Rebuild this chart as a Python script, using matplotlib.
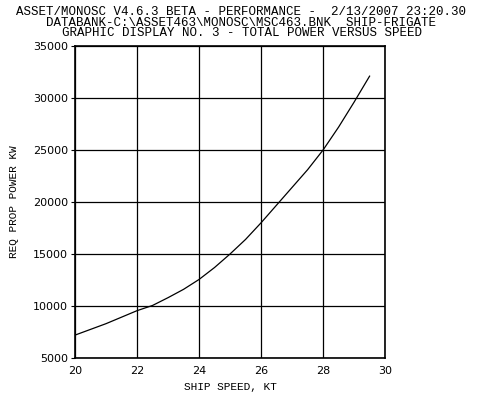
import numpy as np
import matplotlib.pyplot as plt

# speed (kt) vs required propulsion power (kW)
speed = [20, 21, 22, 22.5, 23, 23.5, 24, 24.5, 25, 25.5, 26, 26.5, 27, 27.5, 28, 28.5, 29, 29.5]
power = [7200, 8300, 9550, 10050, 10800, 11600, 12550, 13700, 15000, 16400,
         18000, 19700, 21400, 23100, 25000, 27200, 29600, 32100]

title_lines = [
    "ASSET/MONOSC V4.6.3 BETA - PERFORMANCE -  2/13/2007 23:20.30",
    "DATABANK-C:\\ASSET463\\MONOSC\\MSC463.BNK  SHIP-FRIGATE",
    "GRAPHIC DISPLAY NO. 3 - TOTAL POWER VERSUS SPEED",
]
xticks = [20, 22, 24, 26, 28, 30]
yticks = [5000, 10000, 15000, 20000, 25000, 30000, 35000]

mono = "Liberation Mono"

fig = plt.figure(figsize=(4.83, 3.94), dpi=100)
ax = fig.add_axes([0.1553, 0.0914, 0.642, 0.7919])

ax.plot(speed, power, color="black", lw=0.9)
ax.set_xlim(20, 30)
ax.set_ylim(5000, 35000)
ax.set_xticks(xticks)
ax.set_yticks(yticks)
ax.grid(True, color="black", lw=0.9)
for s in ax.spines.values():
    s.set_linewidth(1.2)
ax.tick_params(axis="x", length=0, pad=6, labelsize=8)
ax.tick_params(axis="y", length=3, width=0.8, pad=2, labelsize=8)

ax.set_xlabel("SHIP SPEED, KT", fontfamily=mono, fontsize=8, labelpad=4)
ax.set_ylabel("REQ PROP POWER KW", fontfamily=mono, fontsize=8, labelpad=10)

ys = [1 - 12 / 394, 1 - 22.5 / 394, 1 - 33 / 394]
for t, y in zip(title_lines, ys):
    fig.text(0.5, y, t, ha="center", va="center", fontfamily=mono, fontsize=9)

fig.savefig("out.png", dpi=100)
